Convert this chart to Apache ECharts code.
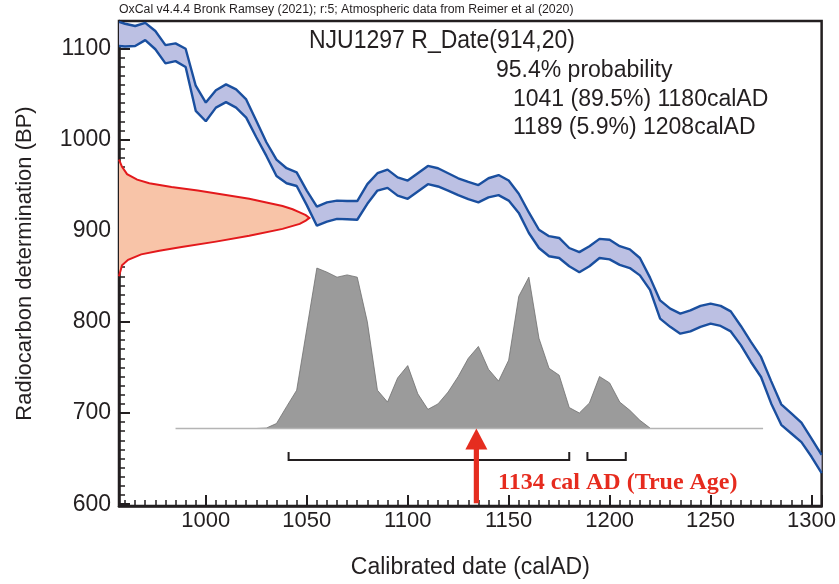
<!DOCTYPE html>
<html>
<head>
<meta charset="utf-8">
<title>NJU1297 R_Date(914,20)</title>
<script src="https://cdn.jsdelivr.net/npm/echarts@6/dist/echarts.min.js"></script>
<style>
  html, body { margin: 0; padding: 0; background: #fff; }
  #chart { width: 839px; height: 584px; }
</style>
</head>
<body>
<div id="chart"></div>
<script>
// calibration curve (upper / lower 1 sigma edge), read every 5 years
const curveYears = [957, 960, 965, 970, 975, 980, 985, 990, 995, 1000, 1005, 1010, 1015, 1020, 1025, 1030,
  1035, 1040, 1045, 1050, 1055, 1060, 1065, 1070, 1075, 1080, 1085, 1090, 1095, 1100, 1105, 1110, 1115,
  1120, 1125, 1130, 1135, 1140, 1145, 1150, 1155, 1160, 1165, 1170, 1175, 1180, 1185, 1190, 1195, 1200,
  1205, 1210, 1215, 1220, 1225, 1230, 1235, 1240, 1245, 1250, 1255, 1260, 1265, 1270, 1275, 1280, 1285,
  1290, 1295, 1300, 1305];
const curveUpper = [1129, 1127, 1124.5, 1128, 1119, 1103.5, 1105.5, 1099.5, 1059, 1040.5, 1054, 1060.5, 1055,
  1044, 1020.5, 997, 978, 968.5, 964, 944, 926.5, 931, 933, 932.5, 932.5, 951, 963, 967, 958.5, 955, 963,
  971, 968.5, 963, 957.5, 953.5, 950, 957.5, 961, 955, 940.5, 920, 901, 894, 892, 881, 876.5, 883, 891, 890,
  883, 879.5, 870, 848.5, 823.5, 814.5, 809, 812.5, 817.5, 820, 817.5, 811.5, 795.5, 778, 761.5, 735, 709.5,
  699.5, 689.5, 672, 654];
const curveLower = [1102.5, 1102, 1102.5, 1109, 1099, 1083.5, 1086, 1079.5, 1031.5, 1020, 1035, 1041, 1035,
  1024, 1002.5, 982, 960, 952, 949, 928, 905.5, 910, 913, 912.5, 912, 929.5, 944, 947, 938.5, 935, 943,
  951, 948.5, 944, 939, 934.5, 931, 936.5, 939, 933, 919.5, 897.5, 881, 872, 870, 861, 854.5, 861, 870, 868.5,
  862.5, 859, 851, 835, 803.5, 794.5, 787, 789.5, 794.5, 798, 795.5, 789.5, 774.5, 756, 739.5, 710.5, 687,
  677.5, 668, 652, 634];

// measured date (914 +/- 20 BP) drawn on the y axis
const redBP = [978, 970, 962, 956, 952, 948, 944, 938, 935, 931, 927, 923.5, 920, 917, 914,
  911, 907.5, 902, 894.5, 888, 882, 878, 874, 868, 862, 850];
const redAD = [957, 958.5, 961, 966, 972, 983, 996, 1013, 1021.5, 1030, 1038, 1043, 1046.5, 1049.5, 1051.3,
  1049.5, 1046.5, 1038, 1021.5, 1005, 988, 977, 968, 961.5, 958.5, 957];

// calibrated probability
const histYears = [1025, 1030, 1035, 1040, 1045, 1050, 1055, 1060, 1065, 1070, 1075, 1080, 1085, 1090, 1095,
  1100, 1105, 1110, 1115, 1120, 1125, 1130, 1135, 1140, 1145, 1150, 1155, 1160, 1165, 1170, 1175, 1180,
  1185, 1190, 1195, 1200, 1205, 1210, 1215, 1220];
const histTop = [683, 683.5, 688.5, 707, 725, 792, 859, 854.5, 849, 851.5, 849, 800, 725, 712, 738.5,
  752, 721, 704, 710, 723, 740, 760, 773, 748, 735, 758, 828, 849, 782, 749, 741.5, 706,
  700, 711, 740, 733, 712, 703, 692, 683.5];
const histBase = 683;
const histBaseRange = [985, 1276];

// 95.4% ranges: from, to, percent
const hpdRanges = [[1041, 1180, 89.5], [1189, 1208, 5.9]];
const bracketBP = 648.5;

const trueAge = 1134;
const arrowTipBP = 683;
const arrowFootBP = 601;

const ink = '#231f20';
const sans = 'Liberation Sans, Arial, sans-serif';

const chart = echarts.init(document.getElementById('chart'));

function labelEvery(step) {
  return function (v) { return v % step === 0 ? String(v) : ''; };
}

const option = {
  animation: false,
  grid: { left: 119, right: 16, top: 21, bottom: 76, show: true, borderColor: ink, borderWidth: 2.5 },
  xAxis: [
    {
      type: 'value', min: 957, max: 1305, splitNumber: 7, position: 'bottom',
      axisLine: { show: true, onZero: false, lineStyle: { color: ink, width: 2.5 } },
      axisTick: { inside: true, length: 11, lineStyle: { color: ink, width: 2 } },
      axisLabel: { formatter: labelEvery(50), fontSize: 22, fontFamily: sans, color: ink, margin: 4 },
      splitLine: { show: false },
      name: 'Calibrated date (calAD)', nameLocation: 'middle', nameGap: 50,
      nameTextStyle: { fontSize: 23, fontFamily: sans, color: ink }
    },
    {
      type: 'value', min: 957, max: 1305, splitNumber: 70, position: 'bottom', offset: 0,
      axisLine: { show: false, onZero: false },
      axisTick: { inside: true, length: 6, lineStyle: { color: ink, width: 1.5 } },
      axisLabel: { show: false }, splitLine: { show: false }
    }
  ],
  yAxis: [
    {
      type: 'value', min: 598, max: 1130, splitNumber: 5, position: 'left',
      axisLine: { show: true, onZero: false, lineStyle: { color: ink, width: 2.5 } },
      axisTick: { inside: true, length: 11, lineStyle: { color: ink, width: 2 } },
      axisLabel: { formatter: labelEvery(100), fontSize: 23, fontFamily: sans, color: ink, margin: 8 },
      splitLine: { show: false },
      name: 'Radiocarbon determination (BP)', nameLocation: 'middle', nameGap: 83,
      nameTextStyle: { fontSize: 22, fontFamily: sans, color: ink }
    },
    {
      type: 'value', min: 598, max: 1130, splitNumber: 53, position: 'left', offset: 0,
      axisLine: { show: false, onZero: false },
      axisTick: { inside: true, length: 6, lineStyle: { color: ink, width: 1.5 } },
      axisLabel: { show: false }, splitLine: { show: false }
    }
  ],
  series: [
    {
      // red measurement distribution: fill against the y axis, outline only on the curve
      type: 'custom', z: 2, silent: true,
      data: [[redAD[0], redBP[0]]],
      renderItem: function (params, api) {
        const pts = redAD.map((x, i) => api.coord([x, redBP[i]]));
        return {
          type: 'group',
          children: [
            { type: 'polygon', shape: { points: pts }, style: { fill: '#f8c4a8' } },
            { type: 'polyline', shape: { points: pts }, style: { stroke: '#e3191c', lineWidth: 2, fill: null } }
          ]
        };
      }
    },
    {
      // grey calibrated probability
      type: 'custom', z: 2, silent: true,
      data: [[histYears[0], histBase]],
      renderItem: function (params, api) {
        const pts = histYears.map((x, i) => api.coord([x, histTop[i]]));
        pts.push(api.coord([histYears[histYears.length - 1], histBase]));
        pts.push(api.coord([histYears[0], histBase]));
        return {
          type: 'polygon',
          shape: { points: pts },
          style: { fill: '#9b9b9b', stroke: '#6f6f6f', lineWidth: 0.8 }
        };
      }
    },
    {
      type: 'line', z: 2, silent: true, showSymbol: false,
      data: histBaseRange.map(x => [x, histBase]),
      lineStyle: { color: '#b4b4b4', width: 1.5 }
    },
    {
      // calibration band fill
      type: 'custom', z: 3, silent: true,
      data: [[curveYears[0], curveUpper[0]]],
      renderItem: function (params, api) {
        const pts = curveYears.map((x, i) => api.coord([x, curveUpper[i]]));
        for (let i = curveYears.length - 1; i >= 0; i--) {
          pts.push(api.coord([curveYears[i], curveLower[i]]));
        }
        return { type: 'polygon', shape: { points: pts }, style: { fill: '#bcc0e3' } };
      }
    },
    {
      type: 'line', z: 4, silent: true, showSymbol: false,
      data: curveYears.map((x, i) => [x, curveUpper[i]]),
      lineStyle: { color: '#1a4f9f', width: 2.4 }
    },
    {
      type: 'line', z: 4, silent: true, showSymbol: false,
      data: curveYears.map((x, i) => [x, curveLower[i]]),
      lineStyle: { color: '#1a4f9f', width: 2.4 }
    },
    {
      // 95.4% range brackets
      type: 'custom', z: 4, silent: true,
      data: hpdRanges.map(r => [r[0], r[1]]),
      renderItem: function (params, api) {
        const a = api.coord([api.value(0), bracketBP]);
        const b = api.coord([api.value(1), bracketBP]);
        return {
          type: 'polyline',
          shape: { points: [[a[0], a[1] - 8], a, b, [b[0], b[1] - 8]] },
          style: { stroke: ink, lineWidth: 2, fill: null }
        };
      }
    },
    {
      // true age arrow
      type: 'custom', z: 5, silent: true,
      data: [[trueAge, arrowTipBP]],
      renderItem: function (params, api) {
        const tip = api.coord([api.value(0), api.value(1)]);
        const foot = api.coord([api.value(0), arrowFootBP]);
        const headH = 21, headW = 11, shaftW = 2.6;
        return {
          type: 'group',
          children: [
            {
              type: 'rect',
              shape: { x: tip[0] - shaftW, y: tip[1] + headH - 1, width: shaftW * 2, height: foot[1] - tip[1] - headH + 1 },
              style: { fill: '#e52d1f' }
            },
            {
              type: 'polygon',
              shape: { points: [tip, [tip[0] - headW, tip[1] + headH], [tip[0] + headW, tip[1] + headH]] },
              style: { fill: '#e52d1f' }
            }
          ]
        };
      }
    }
  ],
  graphic: [
    {
      type: 'text', left: 119, top: 4, z: 10,
      style: { text: 'OxCal v4.4.4 Bronk Ramsey (2021); r:5; Atmospheric data from Reimer et al (2020)',
        font: '12.3px ' + sans, fill: ink }
    },
    {
      type: 'text', x: 309, y: 41, scaleY: 1.1, z: 10,
      style: { text: 'NJU1297 R_Date(914,20)', font: '23px ' + sans, fill: ink, verticalAlign: 'middle' }
    },
    {
      type: 'text', x: 496, y: 71, z: 10,
      style: { text: '95.4% probability', font: '23px ' + sans, fill: ink, verticalAlign: 'middle' }
    },
    {
      type: 'text', x: 513, y: 100, z: 10,
      style: { text: hpdRanges[0][0] + ' (' + hpdRanges[0][2] + '%) ' + hpdRanges[0][1] + 'calAD',
        font: '23px ' + sans, fill: ink, verticalAlign: 'middle' }
    },
    {
      type: 'text', x: 513, y: 128, z: 10,
      style: { text: hpdRanges[1][0] + ' (' + hpdRanges[1][2] + '%) ' + hpdRanges[1][1] + 'calAD',
        font: '23px ' + sans, fill: ink, verticalAlign: 'middle' }
    },
    {
      type: 'text', x: 498, y: 483, z: 10,
      style: { text: trueAge + ' cal AD (True Age)', font: 'bold 24px Liberation Serif, Times New Roman, serif',
        fill: '#e62b1e', verticalAlign: 'middle' }
    }
  ]
};

chart.setOption(option);
</script>
</body>
</html>
